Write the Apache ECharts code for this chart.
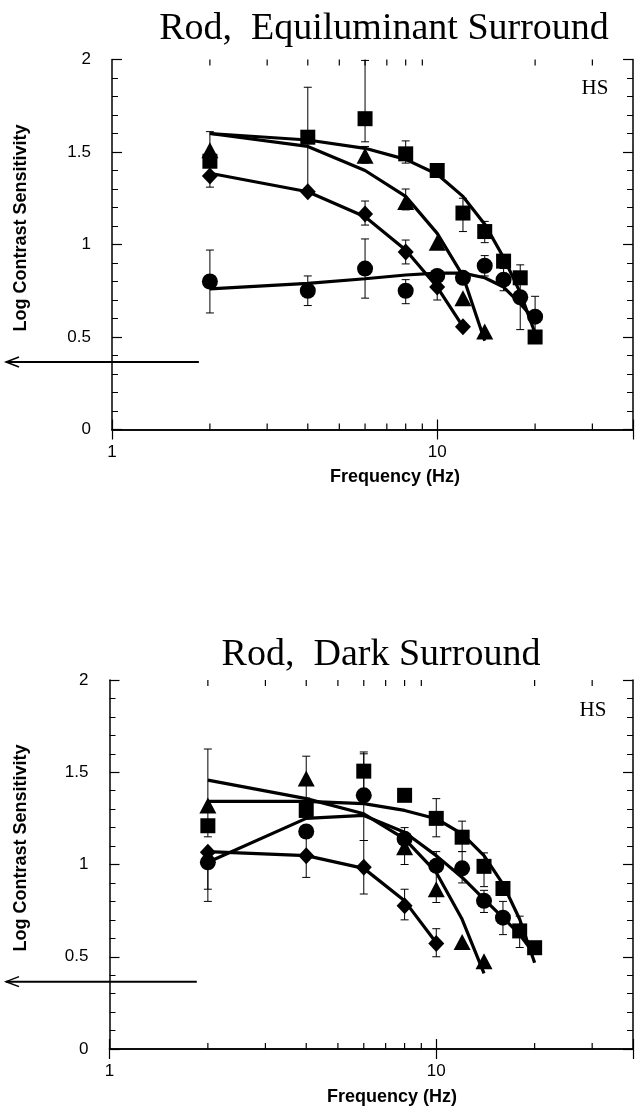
<!DOCTYPE html>
<html><head><meta charset="utf-8">
<script src="https://cdn.jsdelivr.net/npm/echarts@6/dist/echarts.min.js"></script>
<style>html,body{margin:0;padding:0;background:#fff}#c{width:636px;height:1108px}</style>
</head><body><div id="c"></div>
<script>
// ---------- data ----------
const freqs = [2, 4, 6, 8, 10, 12, 14, 16, 18, 20];
const xMinorTicks = [2, 3, 4, 5, 6, 7, 8, 9, 20, 30];
const xTickLabels = { 1: '1', 10: '10' };
const yTickLabels = ['0', '0.5', '1', '1.5', '2'];
const arrowLevel = 0.365;
const arrowFreq = 1.85;

// Top panel: Rod, Equiluminant Surround
const topSquare   = [1.45, 1.58, 1.68, 1.49, 1.40, 1.17, 1.07, 0.91, 0.82, 0.50];
const topTriangle = [1.51, null, 1.48, 1.23, 1.01, 0.71, 0.53];
const topDiamond  = [1.37, 1.285, 1.165, 0.96, 0.77, 0.555];
const topCircle   = [0.80, 0.75, 0.87, 0.75, 0.83, 0.82, 0.885, 0.81, 0.715, 0.61];
const topSquareFit   = [1.60, 1.565, 1.52, 1.46, 1.38, 1.26, 1.11, 0.93, 0.74, 0.52];
const topTriangleFit = [1.60, 1.53, 1.40, 1.26, 1.06, 0.83, 0.48];
const topDiamondFit  = [1.385, 1.285, 1.15, 0.97, 0.77, 0.556];
const topCircleFit   = [0.76, 0.79, 0.815, 0.835, 0.845, 0.845, 0.82, 0.77, 0.68, 0.59];
const topErrors = [
  [2, 1.44, 1.61], [2, 1.31, 1.42], [2, 0.63, 0.97],
  [4, 1.30, 1.85], [4, 0.67, 0.83],
  [6, 1.555, 1.995], [6, 1.44, 1.53], [6, 1.105, 1.235], [6, 0.71, 1.03],
  [8, 1.44, 1.56], [8, 1.187, 1.30], [8, 0.895, 1.024], [8, 0.68, 0.81],
  [10, 0.70, 0.84],
  [12, 1.07, 1.25],
  [14, 1.01, 1.125], [14, 0.83, 0.94],
  [16, 0.75, 0.87],
  [18, 0.54, 0.89],
  [20, 0.50, 0.72]
];

// Bottom panel: Rod, Dark Surround
const botSquare   = [1.21, 1.293, 1.506, 1.375, 1.25, 1.148, 0.99, 0.87, 0.64, 0.549];
const botTriangle = [1.32, 1.466, null, 1.094, 0.866, 0.58, 0.476];
const botCircle   = [1.012, 1.179, 1.375, 1.139, 0.993, 0.979, 0.803, 0.712];
const botDiamond  = [1.066, 1.048, 0.985, 0.776, 0.572];
const botTriangleFit = [1.457, 1.357, 1.275, 1.139, 0.957, 0.703, 0.41];
const botSquareFit   = [1.342, 1.342, 1.33, 1.293, 1.248, 1.166, 1.048, 0.894, 0.703, 0.467];
const botCircleFit   = [1.012, 1.25, 1.266, 1.175, 1.048, 0.93, 0.812, 0.712, 0.621, 0.512];
const botDiamondFit  = [1.07, 1.048, 0.979, 0.803, 0.576];
const botErrors = [
  [2, 1.15, 1.626], [2, 0.80, 1.0], [2, 0.866, 1.07],
  [4, 1.36, 1.587], [4, 0.93, 1.15],
  [6, 1.40, 1.61], [6, 1.13, 1.60], [6, 0.84, 1.13],
  [8, 1.0, 1.2], [8, 0.70, 0.866],
  [10, 1.15, 1.357], [10, 0.794, 1.07], [10, 0.50, 0.652],
  [12, 1.07, 1.235], [12, 0.90, 1.07],
  [14, 0.88, 1.063], [14, 0.74, 0.86],
  [16, 0.62, 0.80],
  [18, 0.55, 0.72]
];

// ---------- build ----------
const pairs = vals => vals.map((v, i) => [freqs[i], v]).filter(p => p[1] != null);
const BLACK = '#000';
const grids = [
  { left: 112, top: 59.5, width: 529, height: 370 },
  { left: 109.5, top: 680, width: 526, height: 369 }
];

function xAxes(g) {
  const common = {
    type: 'log', logBase: 10, min: 1, max: 40, gridIndex: g,
    axisLine: { lineStyle: { color: BLACK, width: 1.5 } },
    axisTick: { inside: true, length: 10, lineStyle: { color: BLACK, width: 1.2 } },
    splitLine: { show: false }
  };
  return [
    Object.assign({}, common, { position: 'bottom',
      axisLabel: { color: BLACK, fontSize: 17, fontFamily: 'Liberation Sans', margin: 14,
        formatter: v => xTickLabels[Math.round(v)] || '' } }),
    Object.assign({}, common, { position: 'top', axisLabel: { show: false } })
  ];
}
function yAxes(g) {
  const common = {
    type: 'value', min: 0, max: 2, interval: 0.5, gridIndex: g,
    axisLine: { show: true, lineStyle: { color: BLACK, width: 1.5 } },
    axisTick: { show: true, inside: true, length: 10, lineStyle: { color: BLACK, width: 1.2 } },
    minorTick: { show: true, splitNumber: 5, length: 6, lineStyle: { color: BLACK, width: 1 } },
    splitLine: { show: false }
  };
  return [
    Object.assign({}, common, { position: 'left',
      axisLabel: { color: BLACK, fontSize: 17, fontFamily: 'Liberation Sans', margin: 21,
        formatter: v => yTickLabels[Math.round(v / 0.5)] } }),
    Object.assign({}, common, { position: 'right', axisLabel: { show: false } })
  ];
}

function minorTickSeries(g) {
  return {
    type: 'custom', xAxisIndex: 2 * g, yAxisIndex: 2 * g, silent: true, clip: false,
    data: xMinorTicks.map(v => [v]),
    encode: { x: 0 },
    renderItem: (params, api) => {
      const v = api.value(0);
      const b = api.coord([v, 0]), t = api.coord([v, 2]);
      return { type: 'group', children: [
        { type: 'line', shape: { x1: b[0], y1: b[1], x2: b[0], y2: b[1] - 6 }, style: { stroke: BLACK, lineWidth: 1.2 } },
        { type: 'line', shape: { x1: t[0], y1: t[1], x2: t[0], y2: t[1] + 6 }, style: { stroke: BLACK, lineWidth: 1.2 } }
      ] };
    }
  };
}
function errorSeries(g, errs) {
  return {
    type: 'custom', xAxisIndex: 2 * g, yAxisIndex: 2 * g, silent: true, z: 1,
    data: errs, encode: { x: 0, y: [1, 2] },
    renderItem: (params, api) => {
      const x = api.value(0);
      const lo = api.coord([x, api.value(1)]), hi = api.coord([x, api.value(2)]);
      const w = 4;
      const st = { stroke: BLACK, lineWidth: 1 };
      return { type: 'group', children: [
        { type: 'line', shape: { x1: lo[0], y1: lo[1], x2: hi[0], y2: hi[1] }, style: st },
        { type: 'line', shape: { x1: lo[0] - w, y1: lo[1], x2: lo[0] + w, y2: lo[1] }, style: st },
        { type: 'line', shape: { x1: hi[0] - w, y1: hi[1], x2: hi[0] + w, y2: hi[1] }, style: st }
      ] };
    }
  };
}
function fitSeries(g, vals) {
  return { type: 'line', xAxisIndex: 2 * g, yAxisIndex: 2 * g, data: pairs(vals), symbol: 'none',
    smooth: false, silent: true, z: 2, lineStyle: { color: BLACK, width: 3.2 } };
}
function markerSeries(g, vals, symbol, size) {
  return { type: 'scatter', xAxisIndex: 2 * g, yAxisIndex: 2 * g, data: pairs(vals), symbol: symbol,
    symbolSize: size, silent: true, z: 3, itemStyle: { color: BLACK, opacity: 1 } };
}

const series = [
  minorTickSeries(0), minorTickSeries(1),
  errorSeries(0, topErrors), errorSeries(1, botErrors),
  fitSeries(0, topSquareFit), fitSeries(0, topTriangleFit), fitSeries(0, topDiamondFit), fitSeries(0, topCircleFit),
  fitSeries(1, botSquareFit), fitSeries(1, botTriangleFit), fitSeries(1, botDiamondFit), fitSeries(1, botCircleFit),
  markerSeries(0, topCircle, 'circle', 16), markerSeries(0, topDiamond, 'diamond', [16, 17]),
  markerSeries(0, topTriangle, 'triangle', [17, 16]), markerSeries(0, topSquare, 'rect', 15),
  markerSeries(1, botCircle, 'circle', 16), markerSeries(1, botDiamond, 'diamond', [16, 17]),
  markerSeries(1, botTriangle, 'triangle', [17, 16]), markerSeries(1, botSquare, 'rect', 15)
];

const chart = echarts.init(document.getElementById('c'), null, { renderer: 'canvas' });
const serif = '"Liberation Serif", "Times New Roman", serif';
const sans = '"Liberation Sans", Arial, sans-serif';
function txt(text, x, y, font, size, weight, rotation) {
  return { type: 'text', x: x, y: y, rotation: rotation || 0, z: 10,
    style: { text: text, fill: BLACK, font: (weight || 'normal') + ' ' + size + 'px ' + font,
      textAlign: 'center', textVerticalAlign: 'middle' } };
}
chart.setOption({
  animation: false,
  backgroundColor: '#fff',
  grid: grids,
  xAxis: xAxes(0).concat(xAxes(1)),
  yAxis: yAxes(0).concat(yAxes(1)),
  series: series
});

function arrow(g) {
  const p = chart.convertToPixel({ xAxisIndex: 2 * g, yAxisIndex: 2 * g }, [arrowFreq, arrowLevel]);
  const x0 = 6, y = p[1];
  return [
    { type: 'line', z: 10, shape: { x1: x0, y1: y, x2: p[0], y2: y }, style: { stroke: BLACK, lineWidth: 2 } },
    { type: 'polyline', z: 10, shape: { points: [[x0 + 13, y - 5], [x0, y], [x0 + 13, y + 5]] }, style: { stroke: BLACK, lineWidth: 1.5, fill: null } }
  ];
}

chart.setOption({
  graphic: [
    txt('Rod,  Equiluminant Surround', 384, 29, serif, 38),
    txt('Rod,  Dark Surround', 381, 655, serif, 38),
    txt('HS', 595, 88, serif, 21),
    txt('HS', 593, 710, serif, 21),
    txt('Frequency (Hz)', 395, 477, sans, 18, 'bold'),
    txt('Frequency (Hz)', 392, 1097, sans, 18, 'bold'),
    txt('Log Contrast Sensitivity', 21, 228, sans, 18, 'bold', Math.PI / 2),
    txt('Log Contrast Sensitivity', 21, 848, sans, 18, 'bold', Math.PI / 2)
  ].concat(arrow(0), arrow(1))
});
</script>
</body></html>
